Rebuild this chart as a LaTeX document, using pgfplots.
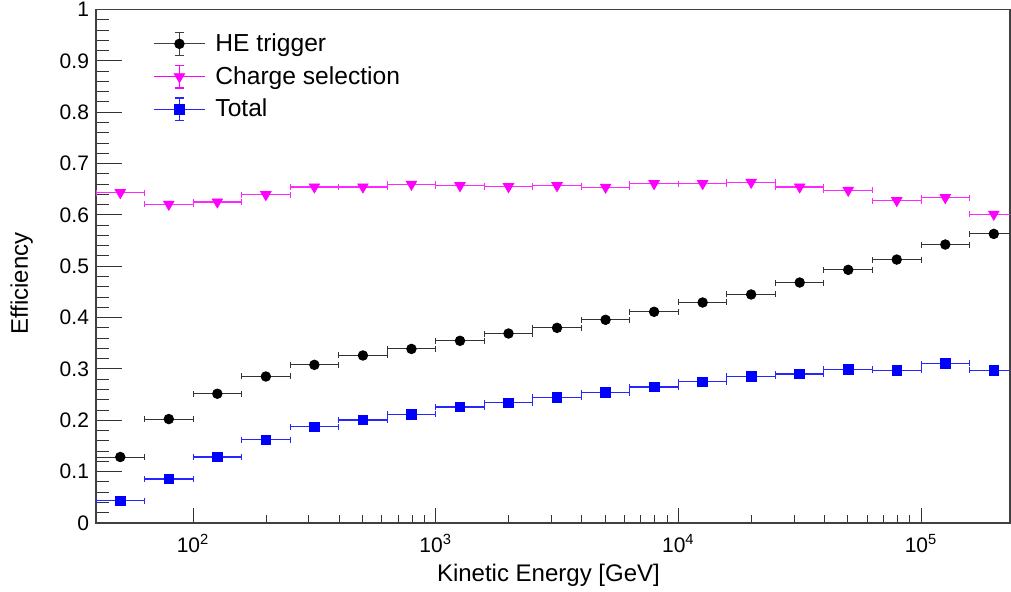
\documentclass[border=0pt]{standalone}
\usepackage{pgfplots}
\pgfplotsset{compat=1.18}
\usepackage{pgfplotstable}
\usepackage{fontspec}
\setmainfont{Liberation Sans}
\pgfplotstableread{
x       he      ch      tot     ep        em
50.1187 0.1285  0.6435  0.0434  0.258925  0.205672
79.4328 0.2024  0.6208  0.0856  0.258925  0.205672
125.893 0.2517  0.6253  0.1285  0.258925  0.205672
199.526 0.2853  0.6396  0.1620  0.258925  0.205672
316.228 0.3080  0.6545  0.1874  0.258925  0.205672
501.187 0.3262  0.6545  0.2004  0.258925  0.205672
794.328 0.3390  0.6597  0.2114  0.258925  0.205672
1258.93 0.3548  0.6570  0.2257  0.258925  0.205672
1995.26 0.3690  0.6550  0.2341  0.258925  0.205672
3162.28 0.3800  0.6570  0.2450  0.258925  0.205672
5011.87 0.3957  0.6540  0.2540  0.258925  0.205672
7943.28 0.4113  0.6610  0.2647  0.258925  0.205672
12589.3 0.4294  0.6610  0.2750  0.258925  0.205672
19952.6 0.4450  0.6636  0.2853  0.258925  0.205672
31622.8 0.4683  0.6545  0.2900  0.258925  0.205672
50118.7 0.4930  0.6480  0.2990  0.258925  0.205672
79432.8 0.5130  0.6280  0.2970  0.258925  0.205672
125893  0.5423  0.6338  0.3106  0.258925  0.205672
199526  0.5630  0.6014  0.2970  0.258925  0.205672
}\data
\definecolor{rootmag}{RGB}{255,0,255}
\definecolor{rootblue}{RGB}{0,0,255}
\pgfplotsset{
  rootlegend/.style={
    legend image code/.code={
      \draw[mark=none, line width=0.5pt, #1] (0pt,0pt) -- (25.5pt,0pt);
      \draw[mark=none, line width=0.6pt, #1] (12.75pt,-5.7pt) -- (12.75pt,5.7pt);
      \draw[mark=none, line width=0.6pt, #1] (10.4pt,-5.7pt) -- (15.1pt,-5.7pt) (10.4pt,5.7pt) -- (15.1pt,5.7pt);
      \draw[only marks] plot coordinates {(12.75pt,0pt)};
    },
  },
}
\begin{document}
\begin{tikzpicture}
% y ticks (longer), drawn by a second axis
\begin{axis}[
  at={(0,0)}, anchor=south west,
  scale only axis, width=457pt, height=256.75pt,
  xmode=log, xmin=39.81, xmax=232700, ymin=0, ymax=1,
  xtick=\empty, ytick={0,0.1,...,1.01}, yticklabels={},
  minor y tick num=4, ytick pos=left, tick align=inside,
  major tick length=13.3pt, minor tick length=6.3pt,
  axis line style={draw=none},
  tick style={line width=0.5pt, black!80},
]
\end{axis}
\begin{axis}[
  at={(0,0)}, anchor=south west,
  scale only axis, width=457pt, height=256.75pt,
  xmode=log, xmin=39.81, xmax=232700, ymin=0, ymax=1,
  xtick={100,1000,10000,100000},
  xticklabels={10\textsuperscript{2},10\textsuperscript{3},10\textsuperscript{4},10\textsuperscript{5}},
  ytick={0,0.1,...,1.01},
  yticklabels={0,0.1,0.2,0.3,0.4,0.5,0.6,0.7,0.8,0.9,1},
  xtick pos=bottom, ytick pos=left, tick align=inside,
  major tick length=7.5pt, minor tick length=4pt,
  ytick style={draw=none},
  every minor y tick/.append style={draw=none},
  tick style={line width=0.5pt, black!80},
  axis line style={line width=0.6pt, black!75},
  ticklabel style={font=\fontsize{10.5}{12}\selectfont},
  xticklabel style={yshift=-2pt},
  /pgf/number format/assume math mode=true,
  xlabel={Kinetic Energy [GeV]},
  ylabel={Efficiency},
  label style={font=\fontsize{12}{14}\selectfont},
  xlabel style={at={(axis description cs:0.495,0)}, anchor=base, yshift=-29.5pt},
  ylabel style={at={(axis description cs:-0.0744,0.466)}, anchor=base, rotate=0},
  legend style={draw=none, fill=none, at={(axis description cs:0.0624,0.96)}, anchor=north west,
    font=\fontsize{12.3}{14}\selectfont, inner sep=0pt, row sep=3pt,
    nodes={inner sep=1.5pt},
    /tikz/every odd column/.append style={column sep=3.5pt}},
  legend cell align=left,
]
\addplot[only marks, mark=*, mark size=2.4pt, black, rootlegend={black!75},
  error bars/.cd, x dir=both, x explicit relative,
  error bar style={line width=0.5pt, black!80},
  error mark=|,
  error mark options={mark size=1.5pt, line width=0.5pt}]
  table[x=x, y=he, x error plus=ep, x error minus=em] {\data};
\addlegendentry{HE trigger}
\addplot[only marks, mark=triangle*, mark options={rotate=180}, mark size=3pt, rootmag, rootlegend={rootmag},
  error bars/.cd, x dir=both, x explicit relative,
  error bar style={line width=0.6pt, rootmag!85},
  error mark=|,
  error mark options={mark size=1.5pt, line width=0.5pt}]
  table[x=x, y=ch, x error plus=ep, x error minus=em] {\data};
\addlegendentry{Charge selection}
\addplot[only marks, mark=square*, mark size=2.4pt, rootblue, rootlegend={rootblue!85},
  error bars/.cd, x dir=both, x explicit relative,
  error bar style={line width=0.6pt, rootblue!85},
  error mark=|,
  error mark options={mark size=1.5pt, line width=0.5pt}]
  table[x=x, y=tot, x error plus=ep, x error minus=em] {\data};
\addlegendentry{Total}
\end{axis}
\pgfresetboundingbox
\path[use as bounding box] (-48pt,-34.5pt) rectangle (457.5pt,261.5pt);
\end{tikzpicture}
\end{document}
